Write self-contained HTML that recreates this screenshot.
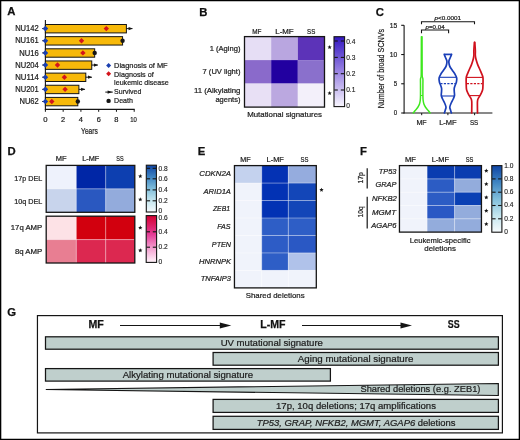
<!DOCTYPE html>
<html><head><meta charset="utf-8"><style>
html,body{margin:0;padding:0;background:#fff;}
body{width:520px;height:440px;overflow:hidden;}
svg{display:block;font-family:"Liberation Sans", sans-serif;will-change:transform;}
</style></head><body>
<svg width="520" height="440" viewBox="0 0 520 440">
<rect width="520" height="440" fill="#fff"/>
<defs><linearGradient id="gB" x1="0" y1="1" x2="0" y2="0"><stop offset="0" stop-color="#f8f6fe"/><stop offset="0.5" stop-color="#9a84e2"/><stop offset="1" stop-color="#3216c0"/></linearGradient><linearGradient id="gBlue" x1="0" y1="1" x2="0" y2="0"><stop offset="0" stop-color="#f6fbfd"/><stop offset="0.25" stop-color="#c4e6ef"/><stop offset="0.5" stop-color="#80bedb"/><stop offset="0.75" stop-color="#3e84c2"/><stop offset="1" stop-color="#0f44a4"/></linearGradient><linearGradient id="gRed" x1="0" y1="1" x2="0" y2="0"><stop offset="0" stop-color="#fff4fa"/><stop offset="0.3" stop-color="#f4a0d0"/><stop offset="0.6" stop-color="#e43c96"/><stop offset="1" stop-color="#d40030"/></linearGradient></defs>
<text x="11.35" y="15.44" font-size="11.3" text-anchor="middle" font-weight="bold" fill="#111" stroke="#111" stroke-width="0.25">A</text>
<line x1="45.40" y1="20.00" x2="45.40" y2="109.90" stroke="#151515" stroke-width="1.1" />
<line x1="44.90" y1="109.40" x2="134.70" y2="109.40" stroke="#151515" stroke-width="1.1" />
<line x1="45.40" y1="109.40" x2="45.40" y2="111.80" stroke="#151515" stroke-width="1" />
<line x1="63.16" y1="109.40" x2="63.16" y2="111.80" stroke="#151515" stroke-width="1" />
<line x1="80.92" y1="109.40" x2="80.92" y2="111.80" stroke="#151515" stroke-width="1" />
<line x1="98.68" y1="109.40" x2="98.68" y2="111.80" stroke="#151515" stroke-width="1" />
<line x1="116.44" y1="109.40" x2="116.44" y2="111.80" stroke="#151515" stroke-width="1" />
<line x1="134.20" y1="109.40" x2="134.20" y2="111.80" stroke="#151515" stroke-width="1" />
<text x="43.25" y="121.88" font-size="7.8" textLength="4.30" lengthAdjust="spacingAndGlyphs" fill="#1c1c1c" stroke="#1c1c1c" stroke-width="0.22">0</text>
<text x="61.05" y="121.88" font-size="7.8" textLength="4.10" lengthAdjust="spacingAndGlyphs" fill="#1c1c1c" stroke="#1c1c1c" stroke-width="0.22">2</text>
<text x="78.75" y="121.88" font-size="7.8" textLength="4.20" lengthAdjust="spacingAndGlyphs" fill="#1c1c1c" stroke="#1c1c1c" stroke-width="0.22">4</text>
<text x="96.65" y="121.88" font-size="7.8" textLength="4.10" lengthAdjust="spacingAndGlyphs" fill="#1c1c1c" stroke="#1c1c1c" stroke-width="0.22">6</text>
<text x="114.25" y="121.88" font-size="7.8" textLength="4.20" lengthAdjust="spacingAndGlyphs" fill="#1c1c1c" stroke="#1c1c1c" stroke-width="0.22">8</text>
<text x="130.25" y="121.88" font-size="7.8" textLength="6.60" lengthAdjust="spacingAndGlyphs" fill="#1c1c1c" stroke="#1c1c1c" stroke-width="0.22">10</text>
<text x="81.05" y="133.53" font-size="8.8" textLength="16.80" lengthAdjust="spacingAndGlyphs" fill="#1c1c1c" stroke="#1c1c1c" stroke-width="0.22">Years</text>
<rect x="45.40" y="24.50" width="80.99" height="8.40" fill="#f7b90a" stroke="#151515" stroke-width="1" />
<line x1="42.20" y1="28.60" x2="45.40" y2="28.60" stroke="#151515" stroke-width="1" />
<text x="15.15" y="31.22" font-size="8.2" textLength="23.60" lengthAdjust="spacingAndGlyphs" fill="#1c1c1c" stroke="#1c1c1c" stroke-width="0.22">NU142</text>
<polygon points="106.30,25.90 109.00,28.60 106.30,31.30 103.60,28.60" fill="#d4141c"/>
<polygon points="45.40,25.80 48.20,28.60 45.40,31.40 42.60,28.60" fill="#1b3fb0"/>
<line x1="126.39" y1="28.60" x2="132.39" y2="28.60" stroke="#151515" stroke-width="1" />
<polygon points="128.59,27.00 132.79,28.60 128.59,30.20" fill="#151515"/>
<rect x="45.40" y="36.65" width="77.17" height="8.40" fill="#f7b90a" stroke="#151515" stroke-width="1" />
<line x1="42.20" y1="40.75" x2="45.40" y2="40.75" stroke="#151515" stroke-width="1" />
<text x="15.15" y="43.37" font-size="8.2" textLength="23.60" lengthAdjust="spacingAndGlyphs" fill="#1c1c1c" stroke="#1c1c1c" stroke-width="0.22">NU161</text>
<polygon points="81.50,38.05 84.20,40.75 81.50,43.45 78.80,40.75" fill="#d4141c"/>
<polygon points="45.40,37.95 48.20,40.75 45.40,43.55 42.60,40.75" fill="#1b3fb0"/>
<circle cx="122.57" cy="40.75" r="2.2" fill="#151515"/>
<rect x="45.40" y="48.80" width="49.28" height="8.40" fill="#f7b90a" stroke="#151515" stroke-width="1" />
<line x1="42.20" y1="52.90" x2="45.40" y2="52.90" stroke="#151515" stroke-width="1" />
<text x="19.25" y="55.52" font-size="8.2" textLength="19.50" lengthAdjust="spacingAndGlyphs" fill="#1c1c1c" stroke="#1c1c1c" stroke-width="0.22">NU16</text>
<polygon points="82.90,50.20 85.60,52.90 82.90,55.60 80.20,52.90" fill="#d4141c"/>
<polygon points="45.40,50.10 48.20,52.90 45.40,55.70 42.60,52.90" fill="#1b3fb0"/>
<circle cx="94.68" cy="52.90" r="2.2" fill="#151515"/>
<rect x="45.40" y="60.95" width="46.35" height="8.40" fill="#f7b90a" stroke="#151515" stroke-width="1" />
<line x1="42.20" y1="65.05" x2="45.40" y2="65.05" stroke="#151515" stroke-width="1" />
<text x="15.25" y="67.67" font-size="8.2" textLength="23.50" lengthAdjust="spacingAndGlyphs" fill="#1c1c1c" stroke="#1c1c1c" stroke-width="0.22">NU204</text>
<polygon points="57.50,62.35 60.20,65.05 57.50,67.75 54.80,65.05" fill="#d4141c"/>
<polygon points="45.40,62.25 48.20,65.05 45.40,67.85 42.60,65.05" fill="#1b3fb0"/>
<line x1="91.75" y1="65.05" x2="97.75" y2="65.05" stroke="#151515" stroke-width="1" />
<polygon points="93.95,63.45 98.15,65.05 93.95,66.65" fill="#151515"/>
<rect x="45.40" y="73.10" width="40.40" height="8.40" fill="#f7b90a" stroke="#151515" stroke-width="1" />
<line x1="42.20" y1="77.20" x2="45.40" y2="77.20" stroke="#151515" stroke-width="1" />
<text x="15.25" y="79.82" font-size="8.2" textLength="23.50" lengthAdjust="spacingAndGlyphs" fill="#1c1c1c" stroke="#1c1c1c" stroke-width="0.22">NU114</text>
<polygon points="64.40,74.50 67.10,77.20 64.40,79.90 61.70,77.20" fill="#d4141c"/>
<polygon points="45.40,74.40 48.20,77.20 45.40,80.00 42.60,77.20" fill="#1b3fb0"/>
<line x1="85.80" y1="77.20" x2="91.80" y2="77.20" stroke="#151515" stroke-width="1" />
<polygon points="88.00,75.60 92.20,77.20 88.00,78.80" fill="#151515"/>
<rect x="45.40" y="85.25" width="33.48" height="8.40" fill="#f7b90a" stroke="#151515" stroke-width="1" />
<line x1="42.20" y1="89.35" x2="45.40" y2="89.35" stroke="#151515" stroke-width="1" />
<text x="15.25" y="91.97" font-size="8.2" textLength="23.50" lengthAdjust="spacingAndGlyphs" fill="#1c1c1c" stroke="#1c1c1c" stroke-width="0.22">NU201</text>
<polygon points="65.10,86.65 67.80,89.35 65.10,92.05 62.40,89.35" fill="#d4141c"/>
<polygon points="45.40,86.55 48.20,89.35 45.40,92.15 42.60,89.35" fill="#1b3fb0"/>
<line x1="78.88" y1="89.35" x2="84.88" y2="89.35" stroke="#151515" stroke-width="1" />
<polygon points="81.08,87.75 85.28,89.35 81.08,90.95" fill="#151515"/>
<rect x="45.40" y="97.40" width="32.41" height="8.40" fill="#f7b90a" stroke="#151515" stroke-width="1" />
<line x1="42.20" y1="101.50" x2="45.40" y2="101.50" stroke="#151515" stroke-width="1" />
<text x="19.45" y="104.12" font-size="8.2" textLength="19.30" lengthAdjust="spacingAndGlyphs" fill="#1c1c1c" stroke="#1c1c1c" stroke-width="0.22">NU62</text>
<polygon points="51.80,98.80 54.50,101.50 51.80,104.20 49.10,101.50" fill="#d4141c"/>
<polygon points="45.40,98.70 48.20,101.50 45.40,104.30 42.60,101.50" fill="#1b3fb0"/>
<circle cx="77.81" cy="101.50" r="2.2" fill="#151515"/>
<polygon points="108.60,63.00 111.10,65.50 108.60,68.00 106.10,65.50" fill="#1b3fb0"/>
<polygon points="108.60,71.35 111.10,73.85 108.60,76.35 106.10,73.85" fill="#d4141c"/>
<text x="114.10" y="67.80" font-size="8.0" textLength="53.55" lengthAdjust="spacingAndGlyphs" fill="#1c1c1c" stroke="#1c1c1c" stroke-width="0.22">Diagnosis of MF</text>
<text x="114.10" y="76.95" font-size="8.0" textLength="39.64" lengthAdjust="spacingAndGlyphs" fill="#1c1c1c" stroke="#1c1c1c" stroke-width="0.22">Diagnosis of</text>
<text x="114.10" y="84.95" font-size="8.0" textLength="54.65" lengthAdjust="spacingAndGlyphs" fill="#1c1c1c" stroke="#1c1c1c" stroke-width="0.22">leukemic disease</text>
<line x1="105.30" y1="92.10" x2="112.80" y2="92.10" stroke="#151515" stroke-width="1" />
<polygon points="107.6,90.5 112.2,92.1 107.6,93.7" fill="#151515"/>
<text x="114.10" y="93.85" font-size="8.0" textLength="27.20" lengthAdjust="spacingAndGlyphs" fill="#1c1c1c" stroke="#1c1c1c" stroke-width="0.22">Survived</text>
<circle cx="108.6" cy="100.9" r="2.2" fill="#151515"/>
<text x="114.10" y="102.75" font-size="8.0" textLength="18.85" lengthAdjust="spacingAndGlyphs" fill="#1c1c1c" stroke="#1c1c1c" stroke-width="0.22">Death</text>
<text x="203.30" y="16.04" font-size="11.3" text-anchor="middle" font-weight="bold" fill="#111" stroke="#111" stroke-width="0.25">B</text>
<rect x="244.50" y="36.60" width="26.67" height="23.50" fill="#e6def5" />
<rect x="271.17" y="36.60" width="26.67" height="23.50" fill="#b9a6e0" />
<rect x="297.83" y="36.60" width="26.67" height="23.50" fill="#5c33b8" />
<rect x="244.50" y="60.10" width="26.67" height="23.50" fill="#8a6acb" />
<rect x="271.17" y="60.10" width="26.67" height="23.50" fill="#2200a0" />
<rect x="297.83" y="60.10" width="26.67" height="23.50" fill="#8a70cc" />
<rect x="244.50" y="83.60" width="26.67" height="23.50" fill="#e8e0f5" />
<rect x="271.17" y="83.60" width="26.67" height="23.50" fill="#bba8e0" />
<rect x="297.83" y="83.60" width="26.67" height="23.50" fill="#f3f0fa" />
<rect x="244.50" y="36.60" width="80.00" height="70.50" fill="none" stroke="#151515" stroke-width="1.3" />
<text x="252.15" y="33.60" font-size="7.4" textLength="9.20" lengthAdjust="spacingAndGlyphs" fill="#1c1c1c" stroke="#1c1c1c" stroke-width="0.22">MF</text>
<text x="275.25" y="33.60" font-size="7.4" textLength="18.40" lengthAdjust="spacingAndGlyphs" fill="#1c1c1c" stroke="#1c1c1c" stroke-width="0.22">L-MF</text>
<text x="307.05" y="33.60" font-size="7.4" textLength="8.20" lengthAdjust="spacingAndGlyphs" fill="#1c1c1c" stroke="#1c1c1c" stroke-width="0.22">SS</text>
<text x="209.75" y="51.20" font-size="8.0" textLength="30.70" lengthAdjust="spacingAndGlyphs" fill="#1c1c1c" stroke="#1c1c1c" stroke-width="0.22">1 (Aging)</text>
<text x="202.55" y="74.00" font-size="8.0" textLength="37.90" lengthAdjust="spacingAndGlyphs" fill="#1c1c1c" stroke="#1c1c1c" stroke-width="0.22">7 (UV light)</text>
<text x="193.95" y="93.20" font-size="8.0" textLength="46.50" lengthAdjust="spacingAndGlyphs" fill="#1c1c1c" stroke="#1c1c1c" stroke-width="0.22">11 (Alkylating</text>
<text x="215.45" y="101.55" font-size="8.0" textLength="25.00" lengthAdjust="spacingAndGlyphs" fill="#1c1c1c" stroke="#1c1c1c" stroke-width="0.22">agents)</text>
<text x="247.15" y="116.70" font-size="8.0" textLength="74.80" lengthAdjust="spacingAndGlyphs" fill="#1c1c1c" stroke="#1c1c1c" stroke-width="0.22">Mutational signatures</text>
<polygon points="329.60,45.05 330.20,46.48 331.74,46.60 330.56,47.61 330.92,49.12 329.60,48.31 328.28,49.12 328.64,47.61 327.46,46.60 329.00,46.48" fill="#151515"/>
<polygon points="329.60,90.95 330.20,92.38 331.74,92.50 330.56,93.51 330.92,95.02 329.60,94.21 328.28,95.02 328.64,93.51 327.46,92.50 329.00,92.38" fill="#151515"/>
<rect x="334.00" y="36.70" width="10.60" height="69.90" fill="url(#gB)" stroke="#151515" stroke-width="1.1" />
<line x1="334.30" y1="41.00" x2="337.80" y2="41.00" stroke="#151515" stroke-width="1.1" />
<line x1="340.80" y1="41.00" x2="344.30" y2="41.00" stroke="#151515" stroke-width="1.1" />
<line x1="334.30" y1="57.40" x2="337.80" y2="57.40" stroke="#151515" stroke-width="1.1" />
<line x1="340.80" y1="57.40" x2="344.30" y2="57.40" stroke="#151515" stroke-width="1.1" />
<line x1="334.30" y1="73.70" x2="337.80" y2="73.70" stroke="#151515" stroke-width="1.1" />
<line x1="340.80" y1="73.70" x2="344.30" y2="73.70" stroke="#151515" stroke-width="1.1" />
<line x1="334.30" y1="90.00" x2="337.80" y2="90.00" stroke="#151515" stroke-width="1.1" />
<line x1="340.80" y1="90.00" x2="344.30" y2="90.00" stroke="#151515" stroke-width="1.1" />
<text x="346.20" y="43.57" font-size="6.6" fill="#1c1c1c" stroke="#1c1c1c" stroke-width="0.13">0.4</text>
<text x="346.20" y="59.77" font-size="6.6" fill="#1c1c1c" stroke="#1c1c1c" stroke-width="0.13">0.3</text>
<text x="346.20" y="76.07" font-size="6.6" fill="#1c1c1c" stroke="#1c1c1c" stroke-width="0.13">0.2</text>
<text x="346.20" y="92.37" font-size="6.6" fill="#1c1c1c" stroke="#1c1c1c" stroke-width="0.13">0.1</text>
<text x="346.20" y="108.27" font-size="6.6" fill="#1c1c1c" stroke="#1c1c1c" stroke-width="0.13">0</text>
<text x="379.80" y="15.99" font-size="11.3" text-anchor="middle" font-weight="bold" fill="#111" stroke="#111" stroke-width="0.25">C</text>
<line x1="404.10" y1="25.30" x2="404.10" y2="113.50" stroke="#151515" stroke-width="1.1" />
<line x1="403.60" y1="113.00" x2="492.40" y2="113.00" stroke="#151515" stroke-width="1.2" />
<line x1="401.20" y1="113.00" x2="404.10" y2="113.00" stroke="#151515" stroke-width="1.1" />
<line x1="401.20" y1="83.77" x2="404.10" y2="83.77" stroke="#151515" stroke-width="1.1" />
<line x1="401.20" y1="54.53" x2="404.10" y2="54.53" stroke="#151515" stroke-width="1.1" />
<line x1="401.20" y1="25.30" x2="404.10" y2="25.30" stroke="#151515" stroke-width="1.1" />
<text x="389.75" y="27.58" font-size="7.8" textLength="7.50" lengthAdjust="spacingAndGlyphs" fill="#1c1c1c" stroke="#1c1c1c" stroke-width="0.22">15</text>
<text x="389.75" y="57.18" font-size="7.8" textLength="7.50" lengthAdjust="spacingAndGlyphs" fill="#1c1c1c" stroke="#1c1c1c" stroke-width="0.22">10</text>
<text x="393.85" y="86.28" font-size="7.8" textLength="3.40" lengthAdjust="spacingAndGlyphs" fill="#1c1c1c" stroke="#1c1c1c" stroke-width="0.22">5</text>
<text x="393.85" y="115.28" font-size="7.8" textLength="3.40" lengthAdjust="spacingAndGlyphs" fill="#1c1c1c" stroke="#1c1c1c" stroke-width="0.22">0</text>
<line x1="421.70" y1="113.00" x2="421.70" y2="115.20" stroke="#151515" stroke-width="1" />
<line x1="447.90" y1="113.00" x2="447.90" y2="115.20" stroke="#151515" stroke-width="1" />
<line x1="474.60" y1="113.00" x2="474.60" y2="115.20" stroke="#151515" stroke-width="1" />
<text x="416.45" y="124.88" font-size="7.8" textLength="10.20" lengthAdjust="spacingAndGlyphs" fill="#1c1c1c" stroke="#1c1c1c" stroke-width="0.22">MF</text>
<text x="439.15" y="124.88" font-size="7.8" textLength="17.50" lengthAdjust="spacingAndGlyphs" fill="#1c1c1c" stroke="#1c1c1c" stroke-width="0.22">L-MF</text>
<text x="469.95" y="124.88" font-size="7.8" textLength="8.30" lengthAdjust="spacingAndGlyphs" fill="#1c1c1c" stroke="#1c1c1c" stroke-width="0.22">SS</text>
<text transform="translate(380.50,108.35) rotate(-90)" x="-0.00" y="3.10" font-size="9.0" textLength="79.50" lengthAdjust="spacingAndGlyphs" fill="#1c1c1c" stroke="#1c1c1c" stroke-width="0.22">Number of broad SCNVs</text>
<polyline points="421.5,33.3 421.5,30.0 448.6,30.0 448.6,33.3" fill="none" stroke="#151515" stroke-width="1.1"/>
<polyline points="421.5,24.3 421.5,21.8 474.5,21.8 474.5,24.3" fill="none" stroke="#151515" stroke-width="1.1"/>
<text x="425.60" y="28.96" font-size="6.0" textLength="18.95" lengthAdjust="spacingAndGlyphs" fill="#1c1c1c" stroke="#1c1c1c" stroke-width="0.22"><tspan font-style="italic">p</tspan><tspan>=0.04</tspan></text>
<text x="434.51" y="20.06" font-size="6.0" textLength="26.54" lengthAdjust="spacingAndGlyphs" fill="#1c1c1c" stroke="#1c1c1c" stroke-width="0.22"><tspan font-style="italic">p</tspan><tspan>&lt;0.0001</tspan></text>
<path d="M422.00,36.80 C422.01,39.00 422.03,45.30 422.05,50.00 C422.07,54.70 422.07,60.67 422.10,65.00 C422.12,69.33 422.07,73.67 422.20,76.00 C422.33,78.33 422.78,77.50 422.90,79.00 C423.02,80.50 422.90,82.33 422.90,85.00 C422.90,87.67 422.87,92.50 422.90,95.00 C422.93,97.50 422.93,98.50 423.10,100.00 C423.27,101.50 423.47,102.75 423.90,104.00 C424.33,105.25 424.98,106.42 425.70,107.50 C426.42,108.58 427.47,109.58 428.20,110.50 C428.93,111.42 429.78,112.58 430.10,113.00" fill="none" stroke="#3ee81e" stroke-width="1.5" stroke-linecap="round"/>
<path d="M421.40,36.80 C421.39,39.00 421.37,45.30 421.35,50.00 C421.33,54.70 421.32,60.67 421.30,65.00 C421.28,69.33 421.33,73.67 421.20,76.00 C421.07,78.33 420.62,77.50 420.50,79.00 C420.38,80.50 420.50,82.33 420.50,85.00 C420.50,87.67 420.53,92.50 420.50,95.00 C420.47,97.50 420.47,98.50 420.30,100.00 C420.13,101.50 419.93,102.75 419.50,104.00 C419.07,105.25 418.42,106.42 417.70,107.50 C416.98,108.58 415.93,109.58 415.20,110.50 C414.47,111.42 413.62,112.58 413.30,113.00" fill="none" stroke="#3ee81e" stroke-width="1.5" stroke-linecap="round"/>
<path d="M451.60,54.40 C451.38,54.92 450.75,56.40 450.30,57.50 C449.85,58.60 449.10,59.92 448.90,61.00 C448.70,62.08 448.90,63.00 449.10,64.00 C449.30,65.00 449.55,65.92 450.10,67.00 C450.65,68.08 451.60,69.33 452.40,70.50 C453.20,71.67 454.18,72.75 454.90,74.00 C455.62,75.25 456.45,76.67 456.70,78.00 C456.95,79.33 456.67,80.75 456.40,82.00 C456.13,83.25 455.47,84.42 455.10,85.50 C454.73,86.58 454.33,87.42 454.20,88.50 C454.07,89.58 454.25,90.83 454.30,92.00 C454.35,93.17 454.68,94.33 454.50,95.50 C454.32,96.67 453.75,97.75 453.20,99.00 C452.65,100.25 451.77,101.67 451.20,103.00 C450.63,104.33 449.92,105.83 449.80,107.00 C449.68,108.17 450.23,109.00 450.50,110.00 C450.77,111.00 451.25,112.50 451.40,113.00" fill="none" stroke="#1a3fb8" stroke-width="1.7" stroke-linecap="round"/>
<path d="M444.20,54.40 C444.42,54.92 445.05,56.40 445.50,57.50 C445.95,58.60 446.70,59.92 446.90,61.00 C447.10,62.08 446.90,63.00 446.70,64.00 C446.50,65.00 446.25,65.92 445.70,67.00 C445.15,68.08 444.20,69.33 443.40,70.50 C442.60,71.67 441.62,72.75 440.90,74.00 C440.18,75.25 439.35,76.67 439.10,78.00 C438.85,79.33 439.13,80.75 439.40,82.00 C439.67,83.25 440.33,84.42 440.70,85.50 C441.07,86.58 441.47,87.42 441.60,88.50 C441.73,89.58 441.55,90.83 441.50,92.00 C441.45,93.17 441.12,94.33 441.30,95.50 C441.48,96.67 442.05,97.75 442.60,99.00 C443.15,100.25 444.03,101.67 444.60,103.00 C445.17,104.33 445.88,105.83 446.00,107.00 C446.12,108.17 445.57,109.00 445.30,110.00 C445.03,111.00 444.55,112.50 444.40,113.00" fill="none" stroke="#1a3fb8" stroke-width="1.7" stroke-linecap="round"/>
<line x1="444.20" y1="54.40" x2="451.60" y2="54.40" stroke="#1a3fb8" stroke-width="1.7" />
<path d="M474.80,42.40 C474.84,43.00 474.96,44.57 475.05,46.00 C475.14,47.43 475.31,49.50 475.35,51.00 C475.39,52.50 475.24,53.83 475.30,55.00 C475.36,56.17 475.50,57.00 475.70,58.00 C475.90,59.00 476.17,59.90 476.50,61.00 C476.83,62.10 477.25,63.43 477.70,64.60 C478.15,65.77 478.68,66.82 479.20,68.00 C479.72,69.18 480.30,70.53 480.80,71.70 C481.30,72.87 481.83,73.95 482.20,75.00 C482.57,76.05 482.87,76.50 483.00,78.00 C483.13,79.50 483.05,82.10 483.00,84.00 C482.95,85.90 482.93,87.98 482.70,89.40 C482.47,90.82 482.05,91.47 481.60,92.50 C481.15,93.53 480.57,94.60 480.00,95.60 C479.43,96.60 478.62,97.60 478.20,98.50 C477.78,99.40 477.63,99.92 477.50,101.00 C477.37,102.08 477.40,103.00 477.40,105.00 C477.40,107.00 477.48,111.67 477.50,113.00" fill="none" stroke="#d0101c" stroke-width="1.7" stroke-linecap="round"/>
<path d="M474.40,42.40 C474.36,43.00 474.24,44.57 474.15,46.00 C474.06,47.43 473.89,49.50 473.85,51.00 C473.81,52.50 473.96,53.83 473.90,55.00 C473.84,56.17 473.70,57.00 473.50,58.00 C473.30,59.00 473.03,59.90 472.70,61.00 C472.37,62.10 471.95,63.43 471.50,64.60 C471.05,65.77 470.52,66.82 470.00,68.00 C469.48,69.18 468.90,70.53 468.40,71.70 C467.90,72.87 467.37,73.95 467.00,75.00 C466.63,76.05 466.33,76.50 466.20,78.00 C466.07,79.50 466.15,82.10 466.20,84.00 C466.25,85.90 466.27,87.98 466.50,89.40 C466.73,90.82 467.15,91.47 467.60,92.50 C468.05,93.53 468.63,94.60 469.20,95.60 C469.77,96.60 470.58,97.60 471.00,98.50 C471.42,99.40 471.57,99.92 471.70,101.00 C471.83,102.08 471.80,103.00 471.80,105.00 C471.80,107.00 471.72,111.67 471.70,113.00" fill="none" stroke="#d0101c" stroke-width="1.7" stroke-linecap="round"/>
<line x1="439.20" y1="77.30" x2="456.60" y2="77.30" stroke="#1a3fb8" stroke-width="1.1" />
<line x1="440.30" y1="83.70" x2="455.50" y2="83.70" stroke="#1a3fb8" stroke-width="1.2" stroke-dasharray="2.2,1.3"/>
<line x1="441.30" y1="96.00" x2="454.50" y2="96.00" stroke="#1a3fb8" stroke-width="1.1" />
<line x1="466.30" y1="77.40" x2="482.90" y2="77.40" stroke="#d0101c" stroke-width="1.1" />
<line x1="466.80" y1="83.70" x2="482.40" y2="83.70" stroke="#d0101c" stroke-width="1.2" stroke-dasharray="2.2,1.3"/>
<line x1="469.20" y1="95.60" x2="480.00" y2="95.60" stroke="#d0101c" stroke-width="1.1" />
<line x1="420.50" y1="95.50" x2="422.90" y2="95.50" stroke="#3ee81e" stroke-width="1.0" />
<text x="11.55" y="154.74" font-size="11.3" text-anchor="middle" font-weight="bold" fill="#111" stroke="#111" stroke-width="0.25">D</text>
<rect x="46.20" y="165.40" width="30.10" height="23.45" fill="#eef2fc" />
<rect x="76.30" y="165.40" width="29.40" height="23.45" fill="#0026a6" />
<rect x="105.70" y="165.40" width="29.10" height="23.45" fill="#0d3fb0" />
<rect x="46.20" y="188.85" width="30.10" height="23.45" fill="#c8d4ec" />
<rect x="76.30" y="188.85" width="29.40" height="23.45" fill="#2a58c0" />
<rect x="105.70" y="188.85" width="29.10" height="23.45" fill="#93abdc" />
<line x1="76.30" y1="165.40" x2="76.30" y2="212.30" stroke="#ffffff" stroke-width="0.7" stroke-opacity="0.55"/>
<line x1="105.70" y1="165.40" x2="105.70" y2="212.30" stroke="#ffffff" stroke-width="0.7" stroke-opacity="0.55"/>
<line x1="46.20" y1="188.85" x2="134.80" y2="188.85" stroke="#ffffff" stroke-width="0.7" stroke-opacity="0.55"/>
<rect x="46.20" y="165.40" width="88.60" height="46.90" fill="none" stroke="#151515" stroke-width="1.3" />
<rect x="46.20" y="216.20" width="30.10" height="23.40" fill="#fde2e6" />
<rect x="76.30" y="216.20" width="29.40" height="23.40" fill="#d2000e" />
<rect x="105.70" y="216.20" width="29.10" height="23.40" fill="#d2000e" />
<rect x="46.20" y="239.60" width="30.10" height="23.40" fill="#e87e92" />
<rect x="76.30" y="239.60" width="29.40" height="23.40" fill="#dc2850" />
<rect x="105.70" y="239.60" width="29.10" height="23.40" fill="#dc2850" />
<line x1="76.30" y1="216.20" x2="76.30" y2="263.00" stroke="#ffffff" stroke-width="0.7" stroke-opacity="0.55"/>
<line x1="105.70" y1="216.20" x2="105.70" y2="263.00" stroke="#ffffff" stroke-width="0.7" stroke-opacity="0.55"/>
<line x1="46.20" y1="239.60" x2="134.80" y2="239.60" stroke="#ffffff" stroke-width="0.7" stroke-opacity="0.55"/>
<rect x="46.20" y="216.20" width="88.60" height="46.80" fill="none" stroke="#151515" stroke-width="1.3" />
<text x="55.75" y="161.45" font-size="7.4" textLength="10.80" lengthAdjust="spacingAndGlyphs" fill="#1c1c1c" stroke="#1c1c1c" stroke-width="0.22">MF</text>
<text x="82.25" y="161.45" font-size="7.4" textLength="17.10" lengthAdjust="spacingAndGlyphs" fill="#1c1c1c" stroke="#1c1c1c" stroke-width="0.22">L-MF</text>
<text x="116.35" y="161.45" font-size="7.4" textLength="7.30" lengthAdjust="spacingAndGlyphs" fill="#1c1c1c" stroke="#1c1c1c" stroke-width="0.22">SS</text>
<text x="14.15" y="180.58" font-size="7.8" textLength="28.10" lengthAdjust="spacingAndGlyphs" fill="#1c1c1c" stroke="#1c1c1c" stroke-width="0.22">17p DEL</text>
<text x="14.15" y="203.78" font-size="7.8" textLength="28.10" lengthAdjust="spacingAndGlyphs" fill="#1c1c1c" stroke="#1c1c1c" stroke-width="0.22">10q DEL</text>
<text x="10.75" y="229.88" font-size="7.8" textLength="31.50" lengthAdjust="spacingAndGlyphs" fill="#1c1c1c" stroke="#1c1c1c" stroke-width="0.22">17q AMP</text>
<text x="14.95" y="253.98" font-size="7.8" textLength="27.30" lengthAdjust="spacingAndGlyphs" fill="#1c1c1c" stroke="#1c1c1c" stroke-width="0.22">8q AMP</text>
<polygon points="140.30,174.05 140.90,175.48 142.44,175.60 141.26,176.61 141.62,178.12 140.30,177.31 138.98,178.12 139.34,176.61 138.16,175.60 139.70,175.48" fill="#151515"/>
<polygon points="140.30,197.25 140.90,198.68 142.44,198.80 141.26,199.81 141.62,201.32 140.30,200.51 138.98,201.32 139.34,199.81 138.16,198.80 139.70,198.68" fill="#151515"/>
<polygon points="140.30,225.55 140.90,226.98 142.44,227.10 141.26,228.11 141.62,229.62 140.30,228.81 138.98,229.62 139.34,228.11 138.16,227.10 139.70,226.98" fill="#151515"/>
<polygon points="140.30,248.15 140.90,249.58 142.44,249.70 141.26,250.71 141.62,252.22 140.30,251.41 138.98,252.22 139.34,250.71 138.16,249.70 139.70,249.58" fill="#151515"/>
<rect x="146.30" y="165.20" width="10.10" height="46.80" fill="url(#gBlue)" stroke="#151515" stroke-width="1.1" />
<line x1="146.60" y1="168.30" x2="150.10" y2="168.30" stroke="#151515" stroke-width="1.1" />
<line x1="152.60" y1="168.30" x2="156.10" y2="168.30" stroke="#151515" stroke-width="1.1" />
<line x1="146.60" y1="178.80" x2="150.10" y2="178.80" stroke="#151515" stroke-width="1.1" />
<line x1="152.60" y1="178.80" x2="156.10" y2="178.80" stroke="#151515" stroke-width="1.1" />
<line x1="146.60" y1="189.90" x2="150.10" y2="189.90" stroke="#151515" stroke-width="1.1" />
<line x1="152.60" y1="189.90" x2="156.10" y2="189.90" stroke="#151515" stroke-width="1.1" />
<line x1="146.60" y1="200.80" x2="150.10" y2="200.80" stroke="#151515" stroke-width="1.1" />
<line x1="152.60" y1="200.80" x2="156.10" y2="200.80" stroke="#151515" stroke-width="1.1" />
<text x="158.60" y="170.67" font-size="6.6" fill="#1c1c1c" stroke="#1c1c1c" stroke-width="0.13">0.8</text>
<text x="158.60" y="181.07" font-size="6.6" fill="#1c1c1c" stroke="#1c1c1c" stroke-width="0.13">0.6</text>
<text x="158.60" y="191.67" font-size="6.6" fill="#1c1c1c" stroke="#1c1c1c" stroke-width="0.13">0.4</text>
<text x="158.60" y="202.77" font-size="6.6" fill="#1c1c1c" stroke="#1c1c1c" stroke-width="0.13">0.2</text>
<text x="158.60" y="212.87" font-size="6.6" fill="#1c1c1c" stroke="#1c1c1c" stroke-width="0.13">0</text>
<rect x="146.20" y="215.60" width="10.40" height="46.80" fill="url(#gRed)" stroke="#151515" stroke-width="1.1" />
<line x1="146.50" y1="231.80" x2="150.00" y2="231.80" stroke="#151515" stroke-width="1.1" />
<line x1="152.80" y1="231.80" x2="156.30" y2="231.80" stroke="#151515" stroke-width="1.1" />
<line x1="146.50" y1="247.20" x2="150.00" y2="247.20" stroke="#151515" stroke-width="1.1" />
<line x1="152.80" y1="247.20" x2="156.30" y2="247.20" stroke="#151515" stroke-width="1.1" />
<text x="158.60" y="219.57" font-size="6.6" fill="#1c1c1c" stroke="#1c1c1c" stroke-width="0.13">0.6</text>
<text x="158.60" y="234.07" font-size="6.6" fill="#1c1c1c" stroke="#1c1c1c" stroke-width="0.13">0.4</text>
<text x="158.60" y="248.97" font-size="6.6" fill="#1c1c1c" stroke="#1c1c1c" stroke-width="0.13">0.2</text>
<text x="158.60" y="264.27" font-size="6.6" fill="#1c1c1c" stroke="#1c1c1c" stroke-width="0.13">0</text>
<text x="201.60" y="154.59" font-size="11.3" text-anchor="middle" font-weight="bold" fill="#111" stroke="#111" stroke-width="0.25">E</text>
<rect x="234.45" y="165.60" width="27.25" height="17.47" fill="#c4d2ee" />
<rect x="261.70" y="165.60" width="26.60" height="17.47" fill="#0432b4" />
<rect x="288.30" y="165.60" width="28.00" height="17.47" fill="#95acde" />
<rect x="234.45" y="183.07" width="27.25" height="17.47" fill="#f0f3fb" />
<rect x="261.70" y="183.07" width="26.60" height="17.47" fill="#0232b4" />
<rect x="288.30" y="183.07" width="28.00" height="17.47" fill="#1346b8" />
<rect x="234.45" y="200.54" width="27.25" height="17.47" fill="#f0f3fb" />
<rect x="261.70" y="200.54" width="26.60" height="17.47" fill="#0232b4" />
<rect x="288.30" y="200.54" width="28.00" height="17.47" fill="#1346b8" />
<rect x="234.45" y="218.01" width="27.25" height="17.47" fill="#f0f3fb" />
<rect x="261.70" y="218.01" width="26.60" height="17.47" fill="#2e5ec6" />
<rect x="288.30" y="218.01" width="28.00" height="17.47" fill="#2e5ec6" />
<rect x="234.45" y="235.48" width="27.25" height="17.47" fill="#f0f3fb" />
<rect x="261.70" y="235.48" width="26.60" height="17.47" fill="#2d5cc6" />
<rect x="288.30" y="235.48" width="28.00" height="17.47" fill="#2a58c4" />
<rect x="234.45" y="252.95" width="27.25" height="17.47" fill="#f0f3fb" />
<rect x="261.70" y="252.95" width="26.60" height="17.47" fill="#2e5ec6" />
<rect x="288.30" y="252.95" width="28.00" height="17.47" fill="#b0c2ea" />
<rect x="234.45" y="270.42" width="27.25" height="17.47" fill="#f0f3fb" />
<rect x="261.70" y="270.42" width="26.60" height="17.47" fill="#f0f3fb" />
<rect x="288.30" y="270.42" width="28.00" height="17.47" fill="#f0f3fb" />
<line x1="261.70" y1="165.60" x2="261.70" y2="287.89" stroke="#ffffff" stroke-width="0.7" stroke-opacity="0.55"/>
<line x1="288.30" y1="165.60" x2="288.30" y2="287.89" stroke="#ffffff" stroke-width="0.7" stroke-opacity="0.55"/>
<line x1="234.45" y1="183.07" x2="316.30" y2="183.07" stroke="#ffffff" stroke-width="0.7" stroke-opacity="0.55"/>
<line x1="234.45" y1="200.54" x2="316.30" y2="200.54" stroke="#ffffff" stroke-width="0.7" stroke-opacity="0.55"/>
<line x1="234.45" y1="218.01" x2="316.30" y2="218.01" stroke="#ffffff" stroke-width="0.7" stroke-opacity="0.55"/>
<line x1="234.45" y1="235.48" x2="316.30" y2="235.48" stroke="#ffffff" stroke-width="0.7" stroke-opacity="0.55"/>
<line x1="234.45" y1="252.95" x2="316.30" y2="252.95" stroke="#ffffff" stroke-width="0.7" stroke-opacity="0.55"/>
<line x1="234.45" y1="270.42" x2="316.30" y2="270.42" stroke="#ffffff" stroke-width="0.7" stroke-opacity="0.55"/>
<rect x="234.45" y="165.60" width="81.85" height="122.29" fill="none" stroke="#151515" stroke-width="1.3" />
<text x="240.35" y="161.80" font-size="7.4" textLength="10.40" lengthAdjust="spacingAndGlyphs" fill="#1c1c1c" stroke="#1c1c1c" stroke-width="0.22">MF</text>
<text x="266.55" y="161.80" font-size="7.4" textLength="17.30" lengthAdjust="spacingAndGlyphs" fill="#1c1c1c" stroke="#1c1c1c" stroke-width="0.22">L-MF</text>
<text x="300.45" y="161.80" font-size="7.4" textLength="7.90" lengthAdjust="spacingAndGlyphs" fill="#1c1c1c" stroke="#1c1c1c" stroke-width="0.22">SS</text>
<text x="199.25" y="176.10" font-size="8.0" textLength="31.70" lengthAdjust="spacingAndGlyphs" font-style="italic" fill="#1c1c1c" stroke="#1c1c1c" stroke-width="0.22">CDKN2A</text>
<text x="203.53" y="193.75" font-size="8.0" textLength="27.42" lengthAdjust="spacingAndGlyphs" font-style="italic" fill="#1c1c1c" stroke="#1c1c1c" stroke-width="0.22">ARID1A</text>
<text x="212.89" y="211.05" font-size="8.0" textLength="17.16" lengthAdjust="spacingAndGlyphs" font-style="italic" fill="#1c1c1c" stroke="#1c1c1c" stroke-width="0.22">ZEB1</text>
<text x="217.15" y="228.55" font-size="8.0" textLength="13.40" lengthAdjust="spacingAndGlyphs" font-style="italic" fill="#1c1c1c" stroke="#1c1c1c" stroke-width="0.22">FAS</text>
<text x="211.85" y="246.50" font-size="8.0" textLength="19.19" lengthAdjust="spacingAndGlyphs" font-style="italic" fill="#1c1c1c" stroke="#1c1c1c" stroke-width="0.22">PTEN</text>
<text x="199.05" y="263.95" font-size="8.0" textLength="32.12" lengthAdjust="spacingAndGlyphs" font-style="italic" fill="#1c1c1c" stroke="#1c1c1c" stroke-width="0.22">HNRNPK</text>
<text x="200.65" y="281.00" font-size="8.0" textLength="30.40" lengthAdjust="spacingAndGlyphs" font-style="italic" fill="#1c1c1c" stroke="#1c1c1c" stroke-width="0.22">TNFAIP3</text>
<polygon points="321.50,187.65 322.10,189.08 323.64,189.20 322.46,190.21 322.82,191.72 321.50,190.91 320.18,191.72 320.54,190.21 319.36,189.20 320.90,189.08" fill="#151515"/>
<text x="245.75" y="297.55" font-size="8.0" textLength="58.90" lengthAdjust="spacingAndGlyphs" fill="#1c1c1c" stroke="#1c1c1c" stroke-width="0.22">Shared deletions</text>
<text x="363.50" y="154.84" font-size="11.3" text-anchor="middle" font-weight="bold" fill="#111" stroke="#111" stroke-width="0.25">F</text>
<rect x="399.45" y="165.60" width="27.65" height="13.30" fill="#f0f3fb" />
<rect x="427.10" y="165.60" width="27.50" height="13.30" fill="#0a3cb0" />
<rect x="454.60" y="165.60" width="26.85" height="13.30" fill="#0a3cb0" />
<rect x="399.45" y="178.90" width="27.65" height="13.30" fill="#f0f3fb" />
<rect x="427.10" y="178.90" width="27.50" height="13.30" fill="#2c5cc4" />
<rect x="454.60" y="178.90" width="26.85" height="13.30" fill="#93acdc" />
<rect x="399.45" y="192.20" width="27.65" height="13.30" fill="#f0f3fb" />
<rect x="427.10" y="192.20" width="27.50" height="13.30" fill="#2c5cc4" />
<rect x="454.60" y="192.20" width="26.85" height="13.30" fill="#0a40b4" />
<rect x="399.45" y="205.50" width="27.65" height="13.30" fill="#f0f3fb" />
<rect x="427.10" y="205.50" width="27.50" height="13.30" fill="#2a58c4" />
<rect x="454.60" y="205.50" width="26.85" height="13.30" fill="#93acdc" />
<rect x="399.45" y="218.80" width="27.65" height="13.30" fill="#f0f3fb" />
<rect x="427.10" y="218.80" width="27.50" height="13.30" fill="#93acdc" />
<rect x="454.60" y="218.80" width="26.85" height="13.30" fill="#93acdc" />
<line x1="427.10" y1="165.60" x2="427.10" y2="232.10" stroke="#ffffff" stroke-width="0.7" stroke-opacity="0.55"/>
<line x1="454.60" y1="165.60" x2="454.60" y2="232.10" stroke="#ffffff" stroke-width="0.7" stroke-opacity="0.55"/>
<line x1="399.45" y1="178.90" x2="481.45" y2="178.90" stroke="#ffffff" stroke-width="0.7" stroke-opacity="0.55"/>
<line x1="399.45" y1="192.20" x2="481.45" y2="192.20" stroke="#ffffff" stroke-width="0.7" stroke-opacity="0.55"/>
<line x1="399.45" y1="205.50" x2="481.45" y2="205.50" stroke="#ffffff" stroke-width="0.7" stroke-opacity="0.55"/>
<line x1="399.45" y1="218.80" x2="481.45" y2="218.80" stroke="#ffffff" stroke-width="0.7" stroke-opacity="0.55"/>
<rect x="399.45" y="165.60" width="82.00" height="66.50" fill="none" stroke="#151515" stroke-width="1.3" />
<text x="405.05" y="161.95" font-size="7.4" textLength="10.90" lengthAdjust="spacingAndGlyphs" fill="#1c1c1c" stroke="#1c1c1c" stroke-width="0.22">MF</text>
<text x="431.75" y="161.95" font-size="7.4" textLength="17.30" lengthAdjust="spacingAndGlyphs" fill="#1c1c1c" stroke="#1c1c1c" stroke-width="0.22">L-MF</text>
<text x="465.65" y="161.95" font-size="7.4" textLength="7.60" lengthAdjust="spacingAndGlyphs" fill="#1c1c1c" stroke="#1c1c1c" stroke-width="0.22">SS</text>
<text x="378.75" y="173.95" font-size="8.0" textLength="17.70" lengthAdjust="spacingAndGlyphs" font-style="italic" fill="#1c1c1c" stroke="#1c1c1c" stroke-width="0.22">TP53</text>
<text x="375.55" y="187.40" font-size="8.0" textLength="20.90" lengthAdjust="spacingAndGlyphs" font-style="italic" fill="#1c1c1c" stroke="#1c1c1c" stroke-width="0.22">GRAP</text>
<text x="371.95" y="201.35" font-size="8.0" textLength="24.90" lengthAdjust="spacingAndGlyphs" font-style="italic" fill="#1c1c1c" stroke="#1c1c1c" stroke-width="0.22">NFKB2</text>
<text x="371.95" y="214.85" font-size="8.0" textLength="24.03" lengthAdjust="spacingAndGlyphs" font-style="italic" fill="#1c1c1c" stroke="#1c1c1c" stroke-width="0.22">MGMT</text>
<text x="371.23" y="227.95" font-size="8.0" textLength="25.21" lengthAdjust="spacingAndGlyphs" font-style="italic" fill="#1c1c1c" stroke="#1c1c1c" stroke-width="0.22">AGAP6</text>
<polygon points="486.30,168.60 486.90,170.03 488.44,170.15 487.26,171.16 487.62,172.67 486.30,171.86 484.98,172.67 485.34,171.16 484.16,170.15 485.70,170.03" fill="#151515"/>
<polygon points="486.30,181.85 486.90,183.28 488.44,183.40 487.26,184.41 487.62,185.92 486.30,185.11 484.98,185.92 485.34,184.41 484.16,183.40 485.70,183.28" fill="#151515"/>
<polygon points="486.30,195.15 486.90,196.58 488.44,196.70 487.26,197.71 487.62,199.22 486.30,198.41 484.98,199.22 485.34,197.71 484.16,196.70 485.70,196.58" fill="#151515"/>
<polygon points="486.30,208.60 486.90,210.03 488.44,210.15 487.26,211.16 487.62,212.67 486.30,211.86 484.98,212.67 485.34,211.16 484.16,210.15 485.70,210.03" fill="#151515"/>
<polygon points="486.30,221.85 486.90,223.28 488.44,223.40 487.26,224.41 487.62,225.92 486.30,225.11 484.98,225.92 485.34,224.41 484.16,223.40 485.70,223.28" fill="#151515"/>
<line x1="367.20" y1="168.20" x2="367.20" y2="188.50" stroke="#151515" stroke-width="1.2" />
<line x1="367.20" y1="196.70" x2="367.20" y2="228.40" stroke="#151515" stroke-width="1.2" />
<text transform="translate(359.90,183.45) rotate(-90)" x="-0.00" y="2.68" font-size="7.8" textLength="11.20" lengthAdjust="spacingAndGlyphs" fill="#1c1c1c" stroke="#1c1c1c" stroke-width="0.22">17p</text>
<text transform="translate(359.90,217.45) rotate(-90)" x="-0.00" y="2.68" font-size="7.8" textLength="11.00" lengthAdjust="spacingAndGlyphs" fill="#1c1c1c" stroke="#1c1c1c" stroke-width="0.22">10q</text>
<rect x="491.80" y="165.60" width="10.10" height="66.60" fill="url(#gBlue)" stroke="#151515" stroke-width="1.1" />
<line x1="492.10" y1="178.90" x2="495.60" y2="178.90" stroke="#151515" stroke-width="1.1" />
<line x1="498.10" y1="178.90" x2="501.60" y2="178.90" stroke="#151515" stroke-width="1.1" />
<line x1="492.10" y1="192.20" x2="495.60" y2="192.20" stroke="#151515" stroke-width="1.1" />
<line x1="498.10" y1="192.20" x2="501.60" y2="192.20" stroke="#151515" stroke-width="1.1" />
<line x1="492.10" y1="205.50" x2="495.60" y2="205.50" stroke="#151515" stroke-width="1.1" />
<line x1="498.10" y1="205.50" x2="501.60" y2="205.50" stroke="#151515" stroke-width="1.1" />
<line x1="492.10" y1="218.80" x2="495.60" y2="218.80" stroke="#151515" stroke-width="1.1" />
<line x1="498.10" y1="218.80" x2="501.60" y2="218.80" stroke="#151515" stroke-width="1.1" />
<text x="504.30" y="167.77" font-size="6.6" fill="#1c1c1c" stroke="#1c1c1c" stroke-width="0.13">1.0</text>
<text x="504.30" y="181.02" font-size="6.6" fill="#1c1c1c" stroke="#1c1c1c" stroke-width="0.13">0.8</text>
<text x="504.30" y="194.27" font-size="6.6" fill="#1c1c1c" stroke="#1c1c1c" stroke-width="0.13">0.6</text>
<text x="504.30" y="207.47" font-size="6.6" fill="#1c1c1c" stroke="#1c1c1c" stroke-width="0.13">0.4</text>
<text x="504.30" y="221.07" font-size="6.6" fill="#1c1c1c" stroke="#1c1c1c" stroke-width="0.13">0.2</text>
<text x="504.30" y="234.27" font-size="6.6" fill="#1c1c1c" stroke="#1c1c1c" stroke-width="0.13">0</text>
<text x="409.65" y="242.70" font-size="8.0" textLength="60.90" lengthAdjust="spacingAndGlyphs" fill="#1c1c1c" stroke="#1c1c1c" stroke-width="0.22">Leukemic-specific</text>
<text x="424.35" y="251.30" font-size="8.0" textLength="31.60" lengthAdjust="spacingAndGlyphs" fill="#1c1c1c" stroke="#1c1c1c" stroke-width="0.22">deletions</text>
<text x="11.55" y="315.54" font-size="11.3" text-anchor="middle" font-weight="bold" fill="#111" stroke="#111" stroke-width="0.25">G</text>
<rect x="37.45" y="315.60" width="464.95" height="117.30" fill="none" stroke="#151515" stroke-width="1.2" />
<text x="96.05" y="328.45" font-size="10.6" text-anchor="middle" font-weight="bold" fill="#111" stroke="#111" stroke-width="0.25">MF</text>
<text x="272.85" y="328.45" font-size="10.6" text-anchor="middle" font-weight="bold" fill="#111" stroke="#111" stroke-width="0.25">L-MF</text>
<text x="447.80" y="328.45" font-size="10.6" textLength="11.80" lengthAdjust="spacingAndGlyphs" font-weight="bold" fill="#111" stroke="#111" stroke-width="0.22">SS</text>
<line x1="120.00" y1="325.50" x2="221.30" y2="325.50" stroke="#151515" stroke-width="1.1" />
<polygon points="219.80,322.4 231.30,325.5 219.80,328.6" fill="#151515"/>
<line x1="302.00" y1="325.50" x2="402.00" y2="325.50" stroke="#151515" stroke-width="1.1" />
<polygon points="400.50,322.4 412.00,325.5 400.50,328.6" fill="#151515"/>
<rect x="45.50" y="336.80" width="452.90" height="12.40" fill="#bfcfcc" stroke="#151515" stroke-width="1.25" />
<text x="220.65" y="346.20" font-size="9.6" textLength="102.30" lengthAdjust="spacingAndGlyphs" fill="#1c1c1c" stroke="#1c1c1c" stroke-width="0.22">UV mutational signature</text>
<rect x="213.10" y="352.50" width="285.30" height="12.70" fill="#bfcfcc" stroke="#151515" stroke-width="1.25" />
<text x="297.75" y="362.00" font-size="9.6" textLength="115.75" lengthAdjust="spacingAndGlyphs" fill="#1c1c1c" stroke="#1c1c1c" stroke-width="0.22">Aging mutational signature</text>
<rect x="45.50" y="368.60" width="284.90" height="12.50" fill="#bfcfcc" stroke="#151515" stroke-width="1.25" />
<text x="122.65" y="377.90" font-size="9.6" textLength="130.50" lengthAdjust="spacingAndGlyphs" fill="#1c1c1c" stroke="#1c1c1c" stroke-width="0.22">Alkylating mutational signature</text>
<polygon points="45.8,389.5 498.3,383.5 498.3,395.5" fill="#bfcfcc" stroke="#151515" stroke-width="1.2" stroke-linejoin="miter" stroke-miterlimit="60"/>
<text x="360.45" y="392.20" font-size="9.6" textLength="120.00" lengthAdjust="spacingAndGlyphs" fill="#1c1c1c" stroke="#1c1c1c" stroke-width="0.22">Shared deletions (e.g. ZEB1)</text>
<rect x="213.10" y="399.40" width="285.30" height="13.00" fill="#bfcfcc" stroke="#151515" stroke-width="1.25" />
<text x="276.05" y="408.90" font-size="9.6" textLength="159.90" lengthAdjust="spacingAndGlyphs" fill="#1c1c1c" stroke="#1c1c1c" stroke-width="0.22">17p, 10q deletions; 17q amplifications</text>
<rect x="213.10" y="416.30" width="285.30" height="13.10" fill="#bfcfcc" stroke="#151515" stroke-width="1.25" />
<text x="256.75" y="425.90" font-size="9.6" textLength="198.80" lengthAdjust="spacingAndGlyphs" fill="#1c1c1c" stroke="#1c1c1c" stroke-width="0.22"><tspan font-style="italic">TP53, GRAP, NFKB2, MGMT, AGAP6</tspan><tspan> deletions</tspan></text>
<rect x="0.65" y="0.60" width="518.70" height="438.80" fill="none" stroke="#000" stroke-width="1.3" />
</svg>
</body></html>
